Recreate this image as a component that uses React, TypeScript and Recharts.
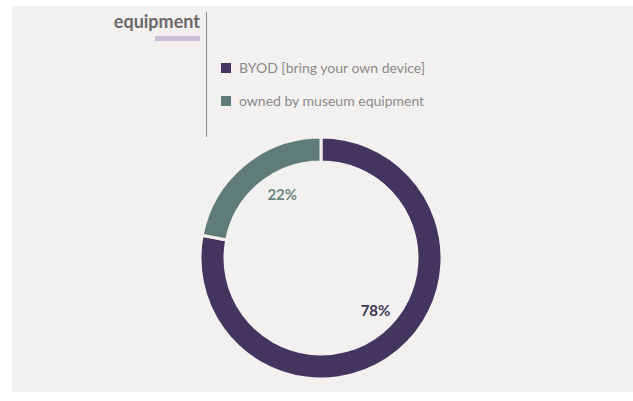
import React from 'react';
import { PieChart, Pie, Cell } from 'recharts';

const categories = ['BYOD [bring your own device]', 'owned by museum equipment'];
const shares = [78, 22];
const colors = ['#433460', '#5f7c79'];
const labelColors = ['#3e3558', '#6b8582'];
// small angular nudge so the labels sit where the original put them
const labelNudge = [7, -8.5];

const data = categories.map((name, i) => ({ name, value: shares[i] }));

const RADIAN = Math.PI / 180;

const renderLabel = (props: any) => {
  const { cx, cy, midAngle, index, value } = props;
  const r = 75;
  const a = (midAngle + labelNudge[index]) * RADIAN;
  const x = cx + r * Math.cos(-a);
  const y = cy + r * Math.sin(-a);
  return (
    <text
      x={x}
      y={y}
      fill={labelColors[index]}
      textAnchor="middle"
      dominantBaseline="central"
      style={{ fontFamily: 'Lato, sans-serif', fontSize: 15, fontWeight: 700 }}
    >
      {`${value}%`}
    </text>
  );
};

const LegendBlock = () => (
  <div style={{ position: 'absolute', left: 221, top: 51, fontFamily: 'Lato, sans-serif' }}>
    {data.map((d, i) => (
      <div key={d.name} style={{ display: 'flex', alignItems: 'center', height: 33 }}>
        <span style={{ width: 10, height: 10, background: colors[i], marginRight: 8 }} />
        <span style={{ fontSize: 14, color: '#8c8a8a' }}>{d.name}</span>
      </div>
    ))}
  </div>
);

export default function App() {
  return (
    <div style={{ position: 'absolute', left: 0, top: 0, width: 633, height: 401, background: '#ffffff' }}>
      <div style={{ position: 'absolute', left: 12, top: 6, width: 621, height: 386, background: '#f3f1ef' }} />

      <div
        style={{
          position: 'absolute',
          right: 633 - 200,
          top: 10,
          fontFamily: 'Lato, sans-serif',
          fontSize: 18,
          fontWeight: 700,
          color: '#6a6868',
        }}
      >
        equipment
      </div>
      <div style={{ position: 'absolute', left: 155, top: 36, width: 45, height: 5, background: '#c9bfdb' }} />
      <div style={{ position: 'absolute', left: 206, top: 12, width: 1, height: 125, background: '#8e8c8c' }} />

      <LegendBlock />

      <div style={{ position: 'absolute', left: 0, top: 0 }}>
        <PieChart width={633} height={401}>
          <Pie
            data={data}
            dataKey="value"
            nameKey="name"
            cx={316}
            cy={253}
            innerRadius={96}
            outerRadius={121}
            startAngle={90}
            endAngle={-270}
            stroke="#f3f1ef"
            strokeWidth={3}
            label={renderLabel}
            labelLine={false}
            isAnimationActive={false}
          >
            {data.map((d, i) => (
              <Cell key={d.name} fill={colors[i]} />
            ))}
          </Pie>
        </PieChart>
      </div>
    </div>
  );
}
